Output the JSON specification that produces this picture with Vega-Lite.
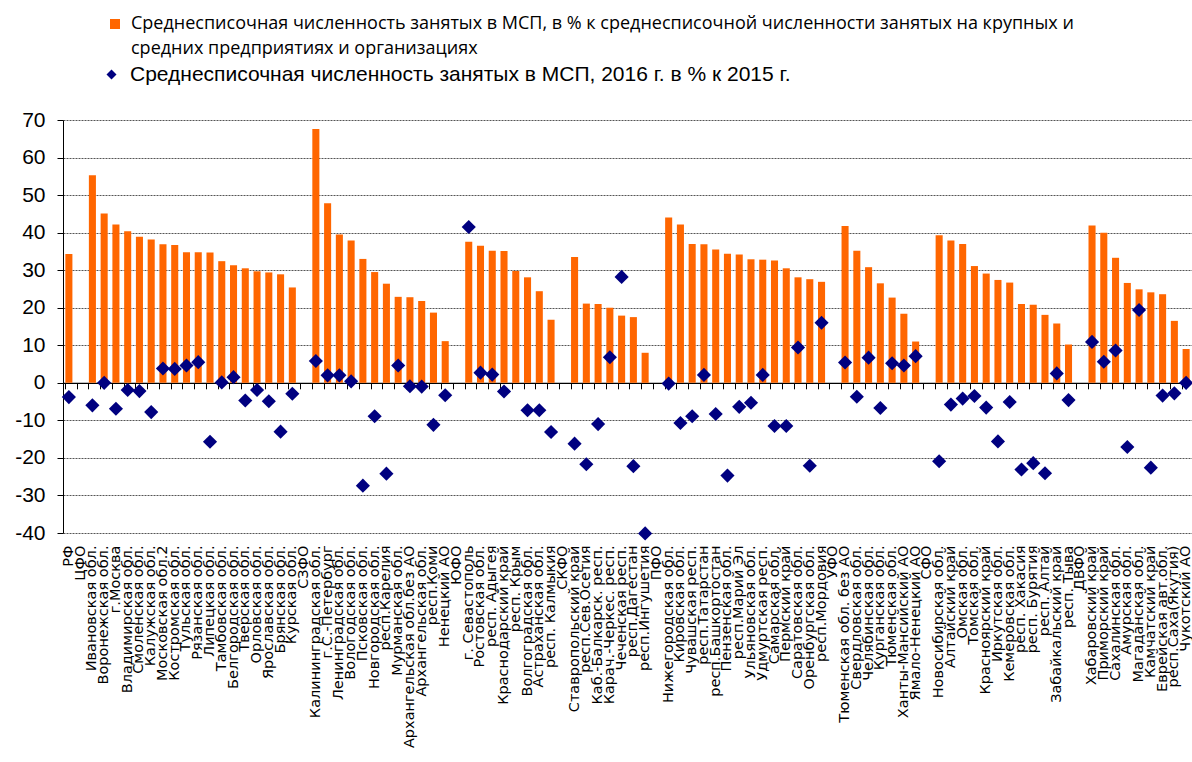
{
  "$schema": "https://vega.github.io/schema/vega-lite/v6.json",
  "width": 1129,
  "height": 413,
  "autosize": {"type": "none"},
  "padding": {"left": 63, "top": 120, "right": 0, "bottom": 229},
  "background": "white",
  "config": {"view": {"stroke": null}, "style": {"guide-label": {"lineHeight": 25}}},
  "data": {"values": [
    {"r": "РФ", "s": 34.3, "g": -3.8},
    {"r": "ЦФО", "s": null, "g": null},
    {"r": "Ивановская обл.", "s": 55.3, "g": -6.0},
    {"r": "Воронежская обл.", "s": 45.1, "g": 0.0},
    {"r": "г.Москва", "s": 42.2, "g": -6.9},
    {"r": "Владимирская обл.", "s": 40.4, "g": -1.9},
    {"r": "Смоленская обл.", "s": 38.9, "g": -2.2},
    {"r": "Калужская обл.", "s": 38.2, "g": -7.8},
    {"r": "Московская обл.2", "s": 36.9, "g": 3.8},
    {"r": "Костромская обл.", "s": 36.7, "g": 3.7},
    {"r": "Тульская обл.", "s": 34.8, "g": 4.6},
    {"r": "Рязанская обл.", "s": 34.8, "g": 5.5},
    {"r": "Липецкая обл.", "s": 34.7, "g": -15.7},
    {"r": "Тамбовская обл.", "s": 32.4, "g": 0.1},
    {"r": "Белгородская обл.", "s": 31.3, "g": 1.5},
    {"r": "Тверская обл.", "s": 30.5, "g": -4.7},
    {"r": "Орловская обл.", "s": 29.7, "g": -1.9},
    {"r": "Ярославская обл.", "s": 29.4, "g": -4.9},
    {"r": "Брянская обл.", "s": 28.9, "g": -13.0},
    {"r": "Курская обл.", "s": 25.4, "g": -2.9},
    {"r": "СЗФО", "s": null, "g": null},
    {"r": "Калининградская обл.", "s": 67.6, "g": 5.8},
    {"r": "г.С.-Петербург", "s": 47.8, "g": 2.0},
    {"r": "Ленинградская обл.", "s": 39.5, "g": 2.0},
    {"r": "Вологодская обл.", "s": 37.9, "g": 0.4},
    {"r": "Псковская обл.", "s": 33.0, "g": -27.4},
    {"r": "Новгородская обл.", "s": 29.5, "g": -8.9},
    {"r": "респ.Карелия", "s": 26.4, "g": -24.2},
    {"r": "Мурманская обл.", "s": 22.9, "g": 4.6},
    {"r": "Архангельская обл.без АО", "s": 22.8, "g": -0.9},
    {"r": "Архангельская обл.", "s": 21.8, "g": -1.0},
    {"r": "респ.Коми", "s": 18.7, "g": -11.2},
    {"r": "Ненецкий АО", "s": 11.1, "g": -3.3},
    {"r": "ЮФО", "s": null, "g": null},
    {"r": "г. Севастополь", "s": 37.6, "g": 41.5},
    {"r": "Ростовская обл.", "s": 36.5, "g": 2.7},
    {"r": "респ. Адыгея", "s": 35.2, "g": 2.2},
    {"r": "Краснодарский край", "s": 35.1, "g": -2.3},
    {"r": "респ. Крым", "s": 29.8, "g": null},
    {"r": "Волгоградская обл.", "s": 28.1, "g": -7.3},
    {"r": "Астраханская обл.", "s": 24.4, "g": -7.3},
    {"r": "респ. Калмыкия", "s": 16.8, "g": -13.1},
    {"r": "СКФО", "s": null, "g": null},
    {"r": "Ставропольский край", "s": 33.5, "g": -16.2},
    {"r": "респ.Сев.Осетия", "s": 21.1, "g": -21.7},
    {"r": "Каб.-Балкарск. респ.", "s": 21.0, "g": -11.0},
    {"r": "Карач.-Черкес. респ.", "s": 20.0, "g": 6.8},
    {"r": "Чеченская респ.", "s": 17.9, "g": 28.2},
    {"r": "респ.Дагестан", "s": 17.5, "g": -22.2},
    {"r": "респ.Ингушетия", "s": 8.0, "g": -40.1},
    {"r": "ПФО", "s": null, "g": null},
    {"r": "Нижегородская обл.", "s": 44.0, "g": -0.2},
    {"r": "Кировская обл.", "s": 42.2, "g": -10.7},
    {"r": "Чувашская респ.", "s": 37.0, "g": -8.9},
    {"r": "респ.Татарстан", "s": 36.9, "g": 2.1},
    {"r": "респ.Башкортостан", "s": 35.5, "g": -8.3},
    {"r": "Пензенская обл.", "s": 34.4, "g": -24.7},
    {"r": "респ.Марий Эл", "s": 34.2, "g": -6.4},
    {"r": "Ульяновская обл.", "s": 32.9, "g": -5.3},
    {"r": "Удмуртская респ.", "s": 32.8, "g": 2.1},
    {"r": "Самарская обл.", "s": 32.6, "g": -11.5},
    {"r": "Пермский край", "s": 30.5, "g": -11.5},
    {"r": "Саратовская обл.", "s": 28.1, "g": 9.4},
    {"r": "Оренбургская обл.", "s": 27.6, "g": -22.1},
    {"r": "респ.Мордовия", "s": 26.9, "g": 16.0},
    {"r": "УФО", "s": null, "g": null},
    {"r": "Тюменская обл. без АО", "s": 41.8, "g": 5.4},
    {"r": "Свердловская обл.", "s": 35.2, "g": -3.7},
    {"r": "Челябинская обл.", "s": 30.8, "g": 6.7},
    {"r": "Курганская обл.", "s": 26.5, "g": -6.7},
    {"r": "Тюменская обл.", "s": 22.7, "g": 5.2},
    {"r": "Ханты-Мансийский АО", "s": 18.4, "g": 4.6},
    {"r": "Ямало-Ненецкий АО", "s": 11.0, "g": 7.1},
    {"r": "СФО", "s": null, "g": null},
    {"r": "Новосибирская обл.", "s": 39.3, "g": -20.9},
    {"r": "Алтайский край", "s": 37.9, "g": -5.8},
    {"r": "Омская обл.", "s": 37.0, "g": -4.2},
    {"r": "Томская обл.", "s": 31.1, "g": -3.5},
    {"r": "Красноярский край", "s": 29.1, "g": -6.6},
    {"r": "Иркутская обл.", "s": 27.4, "g": -15.6},
    {"r": "Кемеровская обл.", "s": 26.7, "g": -5.1},
    {"r": "респ. Хакасия", "s": 21.0, "g": -23.1},
    {"r": "респ. Бурятия", "s": 20.8, "g": -21.4},
    {"r": "респ. Алтай", "s": 18.1, "g": -24.1},
    {"r": "Забайкальский край", "s": 15.8, "g": 2.5},
    {"r": "респ. Тыва", "s": 10.2, "g": -4.6},
    {"r": "ДВФО", "s": null, "g": null},
    {"r": "Хабаровский край", "s": 41.9, "g": 10.9},
    {"r": "Приморский край", "s": 40.0, "g": 5.6},
    {"r": "Сахалинская обл.", "s": 33.3, "g": 8.6},
    {"r": "Амурская обл.", "s": 26.6, "g": -17.1},
    {"r": "Магаданская обл.", "s": 24.9, "g": 19.4},
    {"r": "Камчатский край", "s": 24.1, "g": -22.6},
    {"r": "Еврейская авт.обл.", "s": 23.6, "g": -3.4},
    {"r": "респ.Саха(Якутия)", "s": 16.5, "g": -2.8},
    {"r": "Чукотский АО", "s": 9.0, "g": 0.0}
  ]},
  "resolve": {"scale": {"x": "shared", "y": "shared"}, "axis": {"x": "independent"}, "legend": {"color": "independent", "shape": "independent"}},
  "layer": [
    {
      "mark": {"type": "rule", "opacity": 0},
      "encoding": {
        "x": {
          "field": "r", "type": "nominal", "sort": null,
          "scale": {"paddingInner": 0.4, "paddingOuter": 0.2},
          "axis": {
            "orient": "bottom", "title": null, "domain": false, "ticks": false, "tickSize": 0,
            "labelAngle": -90, "labelFont": "DejaVu Sans", "labelFontSize": 14.5, "labelColor": "#000",
            "labelPadding": 12, "labelOverlap": false, "labelLimit": 400, "grid": false
          }
        }
      }
    },
    {
      "transform": [
        {"fold": ["s", "g"], "as": ["key", "value"]},
        {"filter": "datum.key == 's' && datum.value != null"}
      ],
      "mark": {"type": "bar"},
      "encoding": {
        "x": {
          "field": "r", "type": "nominal", "sort": null,
          "axis": {
            "orient": "bottom", "offset": -150.2, "title": null, "labels": false,
            "ticks": true, "tickSize": 6, "tickColor": "#000", "tickWidth": 1,
            "domain": true, "domainColor": "#000", "domainWidth": 1.2,
            "bandPosition": 0, "grid": false
          }
        },
        "y": {
          "field": "value", "type": "quantitative",
          "scale": {"domain": [-40, 70], "nice": false, "zero": false},
          "axis": {
            "title": null, "values": [-40, -30, -20, -10, 0, 10, 20, 30, 40, 50, 60, 70],
            "labelExpr": "datum.value < 0 ? '-' + abs(datum.value) : '' + datum.value",
            "labelOverlap": false,
            "grid": true, "gridDash": [2, 1], "gridColor": "#555", "gridWidth": 1,
            "domain": true, "domainColor": "#000", "tickColor": "#000", "tickSize": 6,
            "labelFont": "Liberation Sans", "labelFontSize": 21, "labelColor": "#000", "labelPadding": 12
          }
        },
        "color": {
          "field": "key", "type": "nominal",
          "scale": {"domain": ["s"], "range": ["#FF6600"]},
          "legend": {
            "title": null, "orient": "none", "legendX": 43, "legendY": -105,
            "direction": "vertical", "symbolType": "square",
            "labelExpr": "['Среднесписочная численность занятых в МСП, в % к среднесписочной численности занятых на крупных и', 'средних предприятиях и организациях']",
            "labelFont": "Open Sans", "labelFontSize": 18, "labelColor": "#000",
            "labelLimit": 1150, "symbolSize": 100, "symbolStrokeWidth": 0, "labelOffset": 7
          }
        }
      }
    },
    {
      "transform": [
        {"fold": ["s", "g"], "as": ["key", "value"]},
        {"filter": "datum.key == 'g' && datum.value != null"}
      ],
      "mark": {"type": "point", "filled": true, "size": 200, "opacity": 1, "color": "#000080"},
      "encoding": {
        "x": {"field": "r", "type": "nominal", "sort": null, "axis": null},
        "y": {
          "field": "value", "type": "quantitative",
          "axis": {
            "title": null, "values": [-40, -30, -20, -10, 0, 10, 20, 30, 40, 50, 60, 70],
            "labelExpr": "datum.value < 0 ? '-' + abs(datum.value) : '' + datum.value",
            "labelOverlap": false,
            "grid": true, "gridDash": [2, 1], "gridColor": "#555", "gridWidth": 1,
            "domain": true, "domainColor": "#000", "tickColor": "#000", "tickSize": 6,
            "labelFont": "Liberation Sans", "labelFontSize": 21, "labelColor": "#000", "labelPadding": 12
          }
        },
        "shape": {
          "field": "key", "type": "nominal",
          "scale": {"domain": ["g"], "range": ["diamond"]},
          "legend": {
            "title": null, "orient": "none", "legendX": 38, "legendY": -56,
            "direction": "vertical", "symbolFillColor": "#000080", "symbolStrokeWidth": 0,
            "labelExpr": "'Среднесписочная численность занятых в МСП, 2016 г. в % к 2015 г.'",
            "labelFont": "Liberation Sans", "labelFontSize": 21, "labelColor": "#000",
            "labelLimit": 1150, "symbolSize": 100, "labelOffset": 8
          }
        }
      }
    }
  ]
}
